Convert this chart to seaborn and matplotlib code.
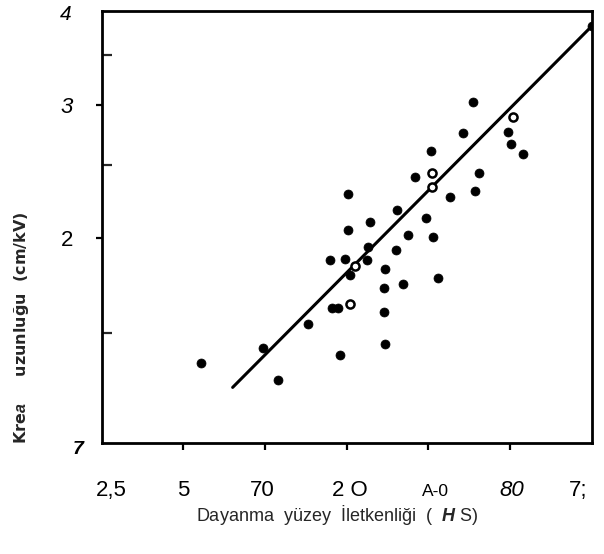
import matplotlib
matplotlib.use("Agg")
import matplotlib.pyplot as plt
import matplotlib.transforms as mtransforms
from matplotlib.ticker import NullLocator, NullFormatter
import numpy as np
import pandas as pd
import seaborn as sns

# Surface conductivity (µS) against specific creepage length (cm/kV)
cond_solid = [5.8, 9.8, 11.2, 14.4, 18.9, 17.7, 18.6, 20.6, 17.4, 19.7,
              23.8, 20.2, 20.2, 24.4, 24.0, 27.7, 27.4, 27.4, 27.7, 32.2,
              30.4, 30.6, 33.6, 39.2, 41.6, 43.4, 35.7, 40.9, 48.0, 53.7,
              58.4, 59.4, 61.5, 78.6, 80.6, 89.3, 160.0]
creep_solid = [1.37, 1.43, 1.30, 1.54, 1.40, 1.62, 1.62, 1.79, 1.87, 1.88,
               1.87, 2.05, 2.29, 2.10, 1.95, 1.82, 1.72, 1.60, 1.45, 1.74,
               1.93, 2.18, 2.02, 2.13, 2.01, 1.77, 2.41, 2.61, 2.27, 2.76,
               3.03, 2.31, 2.44, 2.77, 2.67, 2.59, 3.82]

cond_open = [20.6, 21.5, 41.2, 41.2, 82.0]
creep_open = [1.64, 1.84, 2.44, 2.34, 2.90]

# Trend line end points
line_cond = [7.6, 160.0]
line_creep = [1.27, 3.82]

x_ticks = [2.5, 5, 10, 20, 40, 80, 160]
x_tick_labels = ["2,5", "5", "70", "2 O", "A-0", "80", "7;"]
y_limits = (1.072, 4.0)
y_ticks = [y_limits[0], 2, 3, 4]
y_tick_labels = ["7", "2", "3", "4"]
y_minor_ticks = [1.5, 2.5, 3.5]

sns.set_style("ticks")
plt.rcParams["font.family"] = ["Liberation Sans", "DejaVu Sans"]
plt.rcParams["mathtext.fontset"] = "custom"
plt.rcParams["mathtext.rm"] = "Liberation Sans"
plt.rcParams["mathtext.it"] = "Liberation Sans:italic"
plt.rcParams["mathtext.bf"] = "Liberation Sans:italic:bold"

fig = plt.figure(figsize=(6.04, 5.54), dpi=100)
W, H = 604, 554
ax = fig.add_axes([101.6 / W, (H - 443) / H, 490.2 / W, 432 / H])

solid = pd.DataFrame({"cond": cond_solid, "creep": creep_solid})
hollow = pd.DataFrame({"cond": cond_open, "creep": creep_open})
trend = pd.DataFrame({"cond": line_cond, "creep": line_creep})

sns.lineplot(data=trend, x="cond", y="creep", color="black", lw=2.2, ax=ax,
             zorder=2)
sns.scatterplot(data=solid, x="cond", y="creep", color="black", s=42,
                edgecolor="black", linewidth=0.5, ax=ax, zorder=3)
sns.scatterplot(data=hollow, x="cond", y="creep", facecolor="white", s=34,
                edgecolor="black", linewidth=1.8, ax=ax, zorder=3)

ax.set_xscale("log")
ax.set_yscale("log")
ax.set_xlim(x_ticks[0], x_ticks[-1])
ax.set_ylim(*y_limits)

ax.set_xticks(x_ticks)
ax.set_xticklabels(x_tick_labels)
ax.xaxis.set_minor_locator(NullLocator())
ax.set_yticks(y_ticks)
ax.set_yticklabels(y_tick_labels)
ax.set_yticks(y_minor_ticks, minor=True)
ax.yaxis.set_minor_formatter(NullFormatter())

for side in ["left", "right", "top", "bottom"]:
    ax.spines[side].set_visible(True)
    ax.spines[side].set_linewidth(2.0)
    ax.spines[side].set_color("black")

ax.tick_params(axis="x", which="major", direction="out", length=5, width=1.6,
               pad=21, labelsize=16, colors="black")
ax.tick_params(axis="y", which="major", direction="out", length=4.5, width=1.6,
               pad=16, labelsize=16, colors="black")
ax.tick_params(axis="y", which="minor", direction="in", length=7, width=1.6)

# Corner ticks carry a label only
xt = ax.xaxis.get_major_ticks()
xt[0].tick1line.set_visible(False)
xt[-1].tick1line.set_visible(False)
yt = ax.yaxis.get_major_ticks()
yt[0].tick1line.set_visible(False)
yt[-1].tick1line.set_visible(False)


def shift(label, dx, dy):
    label.set_transform(label.get_transform() + mtransforms.ScaledTranslation(
        dx / 100, dy / 100, fig.dpi_scale_trans))


x_offsets = [10, 0, -3, 3, 7, 2, -14]
for lab, dx in zip(ax.get_xticklabels(), x_offsets):
    shift(lab, dx, -1)
xl = ax.get_xticklabels()
xl[4].set_fontsize(12.5)
shift(xl[4], 0, -4)
xl[5].set_fontstyle("italic")

yl = ax.get_yticklabels()
yl[0].set_fontstyle("italic")
yl[0].set_fontweight("bold")
yl[0].set_fontsize(14)
shift(yl[0], 10, -5)
yl[2].set_fontstyle("italic")
yl[3].set_fontstyle("italic")
yl[3].set_fontsize(15)
shift(yl[3], -2, -2)

ax.set_xlabel("Dayanma  yüzey  İletkenliği  (  $\\mathbf{H}$ S)", fontsize=13)
ax.xaxis.set_label_coords((337 - 101.6) / 490.2, -0.14)
ax.set_ylabel("Kre$\\mathbf{a}$     uzunluğu  (cm/kV)", fontsize=11.5,
              fontweight="bold", family="DejaVu Sans")
ax.yaxis.set_label_coords(-0.145, (443 - 327.5) / 432)

fig.savefig("out.png", dpi=100)
